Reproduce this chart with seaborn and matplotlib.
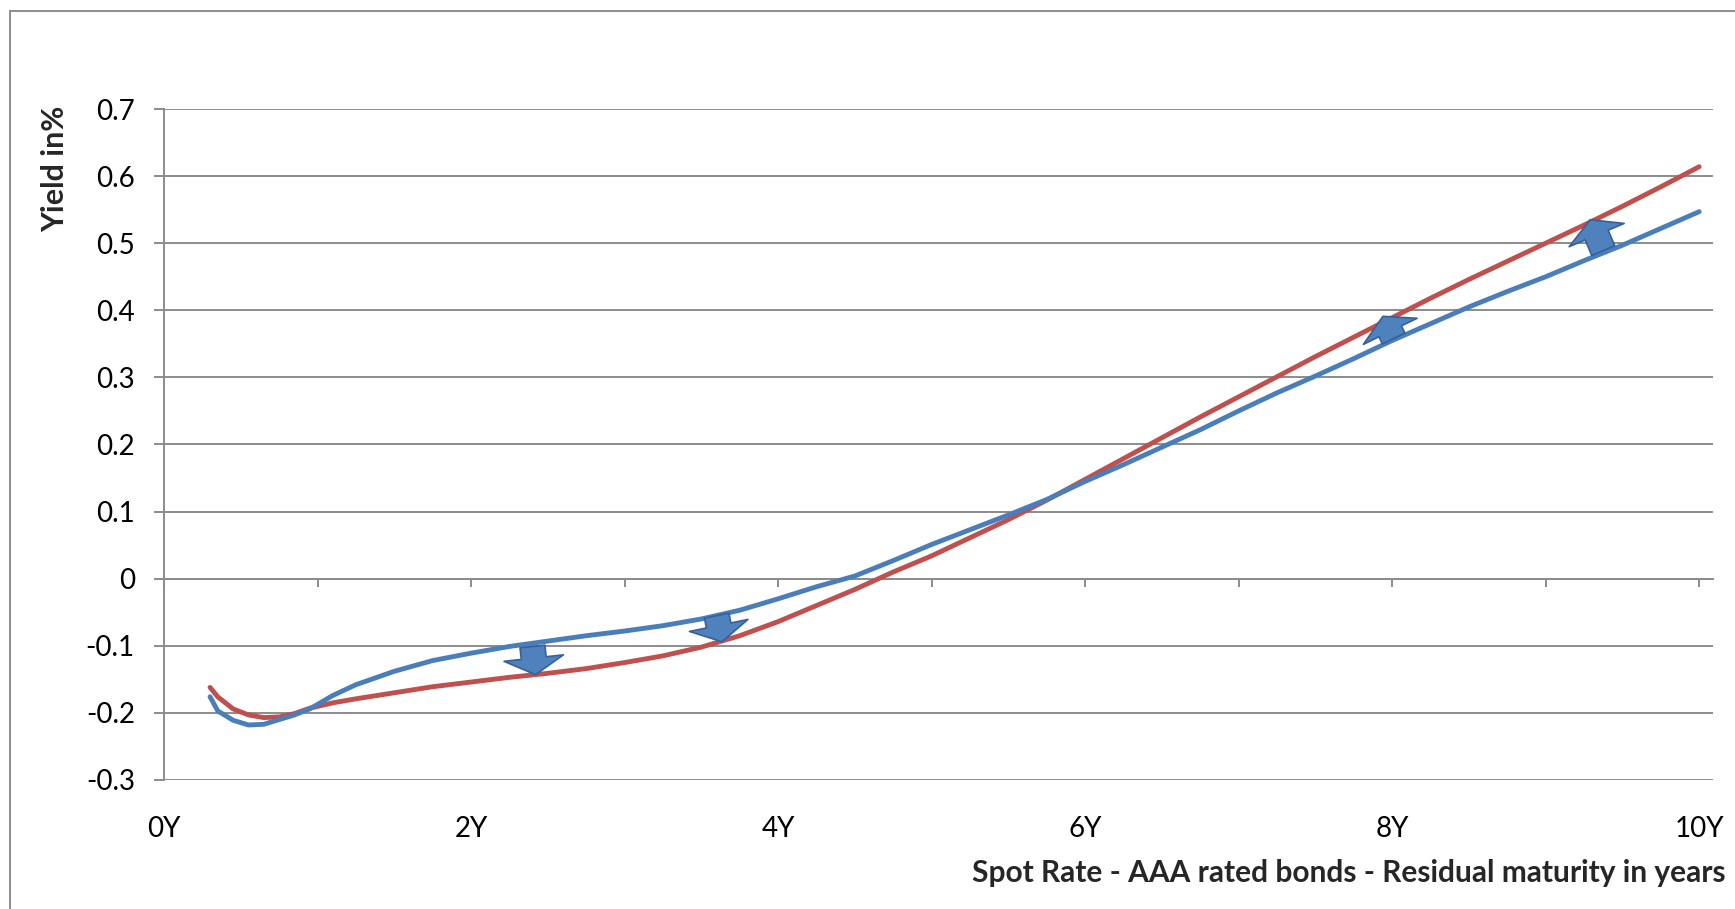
#-------------------------------------------------------------------------------
# Spot rate curve - AAA rated bonds, two dates compared
#-------------------------------------------------------------------------------
import pandas as pd
import numpy as np
import seaborn as sns
import matplotlib.pyplot as plt
from matplotlib.patches import Rectangle

# --------------------------------------
# Data
# --------------------------------------
maturity = [0.3, 0.35, 0.45, 0.55, 0.65, 0.75, 0.85, 0.95, 1.1, 1.25,
            1.5, 1.75, 2.0, 2.25, 2.5, 2.75, 3.0, 3.25, 3.5, 3.75,
            4.0, 4.25, 4.5, 4.75, 5.0, 5.25, 5.5, 5.75, 6.0, 6.25,
            6.5, 6.75, 7.0, 7.25, 7.5, 7.75, 8.0, 8.25, 8.5, 8.75,
            9.0, 9.25, 9.5, 9.75, 10.0]

spot_before = [-0.176, -0.197, -0.211, -0.218, -0.217, -0.210, -0.203, -0.194, -0.174, -0.158,
               -0.138, -0.122, -0.111, -0.101, -0.093, -0.085, -0.078, -0.070, -0.060, -0.047,
               -0.030, -0.012, 0.004, 0.027, 0.051, 0.073, 0.095, 0.118, 0.145, 0.170,
               0.196, 0.222, 0.250, 0.277, 0.302, 0.328, 0.355, 0.380, 0.405, 0.428,
               0.450, 0.474, 0.497, 0.522, 0.547]

spot_after = [-0.162, -0.176, -0.194, -0.203, -0.207, -0.206, -0.201, -0.193, -0.185, -0.179,
              -0.170, -0.161, -0.154, -0.147, -0.141, -0.134, -0.125, -0.115, -0.102, -0.085,
              -0.064, -0.040, -0.016, 0.010, 0.034, 0.061, 0.088, 0.117, 0.148, 0.179,
              0.210, 0.241, 0.271, 0.301, 0.331, 0.360, 0.389, 0.418, 0.446, 0.473,
              0.500, 0.527, 0.555, 0.584, 0.614]

# block arrows showing the shift from the old curve to the new one
# (they sit at right angles to the curves, so start and end x differ a little)
arrow_x_from = [2.40, 3.60, 8.01, 9.375]
arrow_x_to = [2.42, 3.635, 7.94, 9.29]
arrow_from = [-0.101, -0.055, 0.358, 0.489]
arrow_to = [-0.143, -0.094, 0.391, 0.535]

x_ticks = [0, 2, 4, 6, 8, 10]
x_labels = ["0Y", "2Y", "4Y", "6Y", "8Y", "10Y"]
y_ticks = [-0.3, -0.2, -0.1, 0, 0.1, 0.2, 0.3, 0.4, 0.5, 0.6, 0.7]
y_labels = ["-0.3", "-0.2", "-0.1", "0", "0.1", "0.2", "0.3", "0.4", "0.5", "0.6", "0.7"]

df = pd.DataFrame({
    "maturity": maturity * 2,
    "spot": spot_before + spot_after,
    "curve": ["before"] * len(maturity) + ["after"] * len(maturity),
})

# --------------------------------------
# Style
# --------------------------------------
sns.set_theme(style="white")
plt.rcParams["font.family"] = ["Lato", "DejaVu Sans"]
grid_col = "#8c8c8c"
blue = "#4a7ebb"
red = "#c0504d"

fig = plt.figure(figsize=(17.35, 9.09), dpi=100)
ax = fig.add_axes([164 / 1735, 1 - 780 / 909, (1713 - 164) / 1735, (780 - 109) / 909])

sns.lineplot(data=df, x="maturity", y="spot", hue="curve",
             palette={"before": blue, "after": red}, hue_order=["after", "before"],
             linewidth=3.5, legend=False, ax=ax)

for x0, x1, y0, y1 in zip(arrow_x_from, arrow_x_to, arrow_from, arrow_to):
    ax.annotate("", xy=(x1, y1), xytext=(x0, y0),
                arrowprops=dict(arrowstyle="simple,head_width=4.3,head_length=1.2,tail_width=1.8",
                                mutation_scale=10, fc="#4f81bd", ec="#36609a", lw=1.2,
                                shrinkA=0, shrinkB=0))

ax.set_xlim(0, 10.09)
ax.set_ylim(-0.3, 0.7)
ax.set_yticks(y_ticks)
ax.set_yticklabels(y_labels)
ax.set_xticks(x_ticks)
ax.set_xticklabels(x_labels)

ax.yaxis.grid(True, color=grid_col, linewidth=1.4)
ax.set_axisbelow(True)
for s in ["top", "right", "bottom"]:
    ax.spines[s].set_visible(False)
ax.spines["left"].set_color(grid_col)
ax.spines["left"].set_linewidth(1.4)

ax.tick_params(axis="y", which="both", left=True, direction="out", length=7,
               width=1.4, color=grid_col, labelsize=20, pad=14, labelcolor="black")
ax.tick_params(axis="x", which="both", bottom=False, labelsize=20, pad=20,
               labelcolor="black")

# horizontal axis line at zero with yearly tick marks
zero_axis = ax.secondary_xaxis(0.3)
zero_axis.set_xticks(range(0, 11))
zero_axis.set_xticklabels([])
zero_axis.spines["bottom"].set_color(grid_col)
zero_axis.spines["bottom"].set_linewidth(1.4)
zero_axis.tick_params(direction="out", length=6, width=1.4, color=grid_col)

ax.set_xlabel("")
ax.set_ylabel("")
fig.text(55 / 1735, 1 - 169 / 909, "Yield in%", rotation=90, fontsize=22,
         fontweight="bold", ha="center", va="center")
fig.text(1726 / 1735, 1 - 873 / 909, "Spot Rate - AAA rated bonds - Residual maturity in years",
         fontsize=21.5, fontweight="bold", ha="right", va="center")

# chart frame
fig.add_artist(Rectangle((10 / 1735, -0.1), 1.2, 1.1 - 11 / 909, transform=fig.transFigure,
                         fill=False, edgecolor=grid_col, linewidth=1.4))

fig.savefig("out.png", dpi=100)
